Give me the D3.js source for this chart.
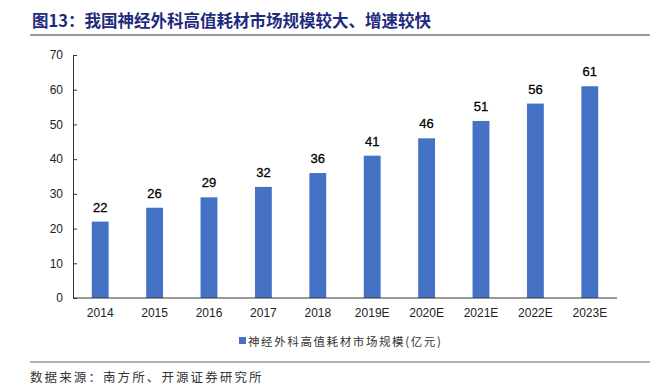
<!DOCTYPE html>
<html><head><meta charset="utf-8">
<script src="https://cdn.jsdelivr.net/npm/d3@7/dist/d3.min.js"></script>
<style>body{margin:0;background:#fff;} svg{display:block;}</style>
</head><body>
<svg id="chart" width="657" height="391"></svg>
<script>
const categories = ["2014","2015","2016","2017","2018","2019E","2020E","2021E","2022E","2023E"];
const values = [22,26,29,32,36,41,46,51,56,61];
const yTicks = [0,10,20,30,40,50,60,70];
const title = "图13：我国神经外科高值耗材市场规模较大、增速较快";
const seriesName = "神经外科高值耗材市场规模(亿元)";
const source = "数据来源：南方所、开源证券研究所";

const svg = d3.select("#chart");
const m = {left:73, right:40, top:55, bottom:93};
const W = 657, H = 391;
const x = d3.scaleBand().domain(categories).range([m.left, W - m.right]).paddingInner(0.69).paddingOuter(0.345);
const y = d3.scaleLinear().domain([0,70]).range([H - m.bottom, m.top]);

// title
svg.append("text").attr("x",32).attr("y",27).text(title)
  .attr("font-family","'Noto Sans CJK SC'").attr("font-weight","bold").attr("font-size",16.5)
  .attr("fill","#1F2A80");
svg.append("line").attr("x1",30).attr("x2",650).attr("y1",35).attr("y2",35)
  .attr("stroke","#9a9a9a").attr("stroke-width",2);

// bars
svg.append("g").selectAll("rect").data(values).join("rect")
  .attr("x",(d,i)=>x(categories[i])).attr("width",x.bandwidth())
  .attr("y",d=>y(d)).attr("height",d=>y(0)-y(d))
  .attr("fill","#4472C4");

svg.append("g").selectAll("text").data(values).join("text")
  .attr("x",(d,i)=>x(categories[i])+x.bandwidth()/2).attr("y",d=>y(d)-10)
  .attr("text-anchor","middle").text(d=>d)
  .attr("font-family","'Liberation Sans', Arial").attr("font-size",13).attr("fill","#000")
  .attr("stroke","#000").attr("stroke-width",0.3);

// y axis
const ya = svg.append("g").attr("transform",`translate(${m.left},0)`)
  .call(d3.axisLeft(y).tickValues(yTicks).tickSize(-4).tickSizeOuter(0).tickPadding(10));
ya.selectAll("text").attr("font-family","'Liberation Sans', Arial").attr("font-size",12).attr("fill","#222");
ya.selectAll("line,path").attr("stroke","#333");

// x axis
const xa = svg.append("g").attr("transform",`translate(0,${y(0)})`)
  .call(d3.axisBottom(x).tickSize(0).tickPadding(10));
xa.select("path").attr("d",`M${m.left},0H${W-m.right}`).attr("stroke","#333").attr("stroke-width",1.2);
xa.selectAll("text").attr("font-family","'Liberation Sans', Arial").attr("font-size",12).attr("fill","#222");

// legend
svg.append("rect").attr("x",239).attr("y",337).attr("width",7).attr("height",7).attr("fill","#4472C4");
svg.append("text").attr("x",248).attr("y",345.5).text(seriesName)
  .attr("font-family","'Noto Sans CJK SC'").attr("font-size",11.5).attr("letter-spacing",1.6).attr("fill","#333");

// source
svg.append("line").attr("x1",30).attr("x2",650).attr("y1",362).attr("y2",362)
  .attr("stroke","#9a9a9a").attr("stroke-width",1.5);
svg.append("text").attr("x",30).attr("y",382).text(source)
  .attr("font-family","'Noto Sans CJK SC'").attr("font-size",12.5).attr("letter-spacing",2.1).attr("fill","#333");
</script>
</body></html>
